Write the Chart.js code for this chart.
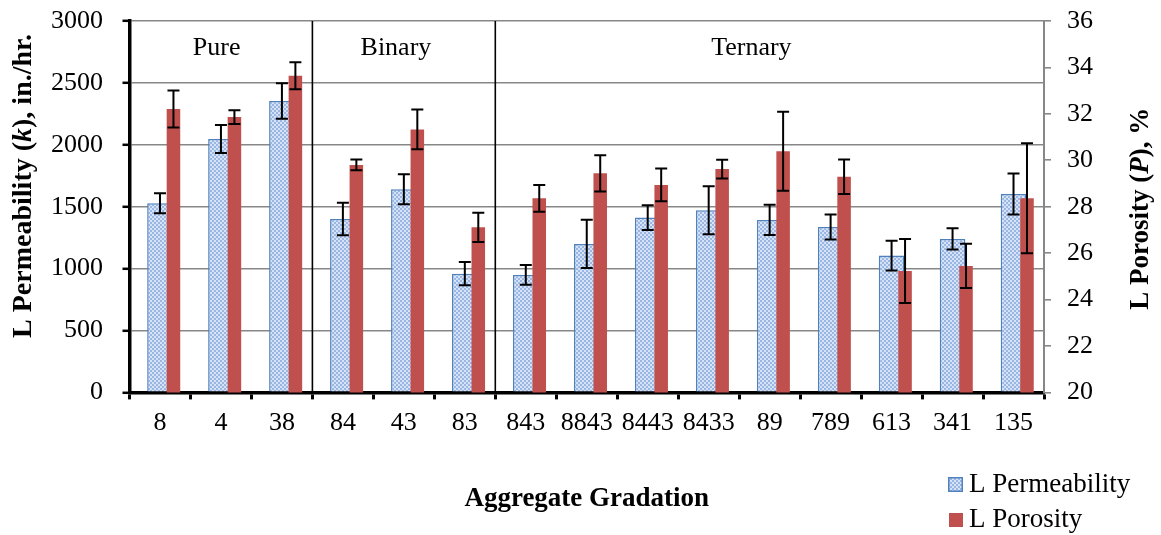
<!DOCTYPE html>
<html>
<head>
<meta charset="utf-8">
<script src="https://cdn.jsdelivr.net/npm/chart.js@4.4.1/dist/chart.umd.min.js"></script>
<style>
  html, body { margin: 0; padding: 0; background: #fff; }
  #wrap { position: relative; width: 1161px; height: 535px; }
</style>
</head>
<body>
<div id="wrap"><canvas id="c" width="1161" height="535"></canvas></div>
<script>
// Aggregate gradations
const categories = ['8', '4', '38', '84', '43', '83', '843', '8843', '8443', '8433', '89', '789', '613', '341', '135'];

// Permeability k (in./hr.) with error half-widths
const permeability    = [1528, 2047, 2354, 1401, 1641, 959, 949, 1199, 1412, 1471, 1393, 1336, 1105, 1240, 1603];
const permeabilityErr = [80, 113, 143, 131, 122, 94, 80, 195, 100, 194, 122, 100, 120, 85, 166];

// Porosity P (%) with error half-widths
const porosity    = [32.21, 31.86, 33.64, 29.80, 31.33, 27.11, 28.36, 29.44, 28.94, 29.62, 30.39, 29.29, 25.23, 25.45, 28.36];
const porosityErr = [0.80, 0.30, 0.58, 0.23, 0.86, 0.63, 0.58, 0.78, 0.71, 0.40, 1.70, 0.74, 1.38, 0.95, 2.37];

// Axis ticks
const leftTicks  = [0, 500, 1000, 1500, 2000, 2500, 3000];
const rightTicks = [20, 22, 24, 26, 28, 30, 32, 34, 36];

// Gradation groups: names and the category boundaries between them
const groupNames  = ['Pure', 'Binary', 'Ternary'];
const groupBreaks = [2.5, 5.5];

const SERIF = '"Liberation Serif", "Times New Roman", serif';
const RED = '#c0504d';

// Porosity bars sit just right of each category centre, partly over the permeability bar
const POROSITY_SHIFT = 0.221;   // fraction of a category width

// Dotted light-blue fill for the permeability bars
function dottedFill() {
  const c = document.createElement('canvas');
  c.width = 4; c.height = 4;
  const g = c.getContext('2d');
  g.fillStyle = '#d6e2f5';
  g.fillRect(0, 0, 4, 4);
  g.fillStyle = '#9ab7e4';
  g.fillRect(0, 0, 2, 2);
  g.fillRect(2, 2, 2, 2);
  return g.createPattern(c, 'repeat');
}

// Draws a run of differently styled text pieces centred on (cx, cy), optionally rotated
function drawRuns(ctx, runs, cx, cy, angle) {
  ctx.save();
  ctx.translate(cx, cy);
  ctx.rotate(angle);
  ctx.textBaseline = 'middle';
  ctx.textAlign = 'left';
  ctx.fillStyle = '#000';
  let total = 0;
  runs.forEach(r => { ctx.font = r.font; r.w = ctx.measureText(r.text).width; total += r.w; });
  let x = -total / 2;
  runs.forEach(r => { ctx.font = r.font; ctx.fillText(r.text, x, 0); x += r.w; });
  ctx.restore();
}

function drawErrorBars(ctx, meta, values, errs, scale) {
  meta.data.forEach((bar, i) => {
    const x = bar.x;
    const yTop = scale.getPixelForValue(values[i] + errs[i]);
    const yBot = scale.getPixelForValue(values[i] - errs[i]);
    ctx.beginPath();
    ctx.moveTo(x, yTop); ctx.lineTo(x, yBot);
    ctx.moveTo(x - 6, yTop); ctx.lineTo(x + 6, yTop);
    ctx.moveTo(x - 6, yBot); ctx.lineTo(x + 6, yBot);
    ctx.stroke();
  });
}

const overlay = {
  id: 'overlay',
  beforeDatasetsDraw(chart) {
    const { ctx, chartArea: a, scales: { x } } = chart;
    ctx.save();
    ctx.strokeStyle = '#000';
    ctx.lineWidth = 1.6;
    groupBreaks.forEach(v => {
      const px = x.getPixelForValue(v);
      ctx.beginPath();
      ctx.moveTo(px, a.top);
      ctx.lineTo(px, a.bottom);
      ctx.stroke();
    });
    // group captions along the top of the plot
    const captionAt = [0.93, 3.87, 9.7];
    ctx.font = '26px ' + SERIF;
    ctx.fillStyle = '#000';
    ctx.textAlign = 'center';
    ctx.textBaseline = 'middle';
    groupNames.forEach((n, i) => ctx.fillText(n, x.getPixelForValue(captionAt[i]), a.top + 27));
    ctx.restore();
  },
  afterDatasetsDraw(chart) {
    const { ctx, chartArea: a, scales } = chart;
    ctx.save();
    ctx.strokeStyle = '#000';
    ctx.lineWidth = 2;
    drawErrorBars(ctx, chart.getDatasetMeta(1), permeability, permeabilityErr, scales.y);
    drawErrorBars(ctx, chart.getDatasetMeta(0), porosity, porosityErr, scales.y2);
    ctx.restore();

    // axis titles
    const bold = 'bold 28px ' + SERIF;
    const boldIt = 'italic bold 28px ' + SERIF;
    drawRuns(ctx, [
      { text: 'L Permeability (', font: bold },
      { text: 'k', font: boldIt },
      { text: '), in./hr.', font: bold }
    ], 24, a.top + 165, -Math.PI / 2);
    const boldR = 'bold 27px ' + SERIF;
    const boldItR = 'italic bold 27px ' + SERIF;
    drawRuns(ctx, [
      { text: 'L Porosity (', font: boldR },
      { text: 'P', font: boldItR },
      { text: '), %', font: boldR }
    ], 1141, (a.top + a.bottom) / 2 + 2, -Math.PI / 2);

    // legend, stacked at the lower right
    const ds = chart.data.datasets;
    const items = [
      { label: ds[1].label, fill: ds[1].backgroundColor, border: ds[1].borderColor, x: 948, y: 477, s: 15, ty: 485 },
      { label: ds[0].label, fill: ds[0].backgroundColor, border: null, x: 949, y: 513, s: 14, ty: 520 }
    ];
    ctx.save();
    ctx.font = '27px ' + SERIF;
    ctx.textBaseline = 'middle';
    ctx.textAlign = 'left';
    items.forEach(it => {
      ctx.fillStyle = it.fill;
      ctx.fillRect(it.x, it.y, it.s, it.s);
      if (it.border) {
        ctx.strokeStyle = it.border;
        ctx.lineWidth = 1.5;
        ctx.strokeRect(it.x + 0.75, it.y + 0.75, it.s - 1.5, it.s - 1.5);
      }
      ctx.fillStyle = '#000';
      ctx.fillText(it.label, 969, it.ty);
    });
    ctx.restore();
  }
};

// keep the top of the value axes at the layout padding
const noEdgePadding = s => { s.paddingTop = 0; s.paddingBottom = 0; };

function build() {
  new Chart(document.getElementById('c'), {
    type: 'bar',
    data: {
      labels: categories,
      datasets: [
        { label: 'L Porosity', data: porosity.map((v, i) => ({ x: i, y: v })),
          xAxisID: 'x2', yAxisID: 'y2', order: 0, grouped: false,
          categoryPercentage: 1, barPercentage: 0.222,
          backgroundColor: RED, borderWidth: 0 },
        { label: 'L Permeability', data: permeability,
          xAxisID: 'x', yAxisID: 'y', order: 1, grouped: false,
          categoryPercentage: 1, barPercentage: 0.42,
          backgroundColor: dottedFill(), borderColor: '#4f81bd', borderWidth: 1.5 }
      ]
    },
    options: {
      responsive: false,
      animation: false,
      devicePixelRatio: 1,
      layout: { padding: { left: 31.5, right: 52, top: 21, bottom: 0 } },
      plugins: {
        legend: { display: false },
        tooltip: { enabled: false }
      },
      scales: {
        x: {
          type: 'category',
          offset: true,
          grid: { offset: true, drawOnChartArea: false, drawTicks: true, tickLength: 7, tickColor: '#000', tickWidth: 3 },
          border: { display: true, color: '#000', width: 3.5 },
          ticks: { color: '#000', font: { family: SERIF, size: 26 }, padding: 8, autoSkip: false, maxRotation: 0 },
          title: { display: true, text: 'Aggregate Gradation', color: '#000',
                   font: { family: SERIF, size: 27, weight: 'bold' }, padding: { top: 36, bottom: 20 } }
        },
        x2: {
          type: 'linear',
          display: false,
          offset: false,
          grid: { offset: false },
          min: -0.5 - POROSITY_SHIFT,
          max: categories.length - 0.5 - POROSITY_SHIFT,
          afterBuildTicks: s => { s.ticks = categories.map((_, i) => ({ value: i })); }
        },
        y: {
          position: 'left',
          min: 0, max: 3000,
          afterBuildTicks: s => { s.ticks = leftTicks.map(v => ({ value: v })); },
          afterFit: noEdgePadding,
          grid: { color: '#878787', lineWidth: 1.6, tickLength: 7, tickColor: '#000', tickWidth: 2.5 },
          border: { display: true, color: '#000', width: 3.5 },
          ticks: { color: '#000', font: { family: SERIF, size: 26 }, padding: 19.5, callback: v => String(v) }
        },
        y2: {
          position: 'right',
          min: 20, max: 36,
          afterBuildTicks: s => { s.ticks = rightTicks.map(v => ({ value: v })); },
          afterFit: noEdgePadding,
          grid: { drawOnChartArea: false, color: '#878787', lineWidth: 1.6, tickLength: 7 },
          border: { display: true, color: '#878787', width: 2 },
          ticks: { color: '#000', font: { family: SERIF, size: 26 }, padding: 16, callback: v => String(v) }
        }
      }
    },
    plugins: [overlay]
  });
}

const fontsReady = document.fonts
  ? Promise.all([
      document.fonts.load('26px "Liberation Serif"'),
      document.fonts.load('bold 27px "Liberation Serif"'),
      document.fonts.load('italic bold 27px "Liberation Serif"')
    ]).catch(() => null)
  : Promise.resolve();
fontsReady.then(build);
</script>
</body>
</html>
